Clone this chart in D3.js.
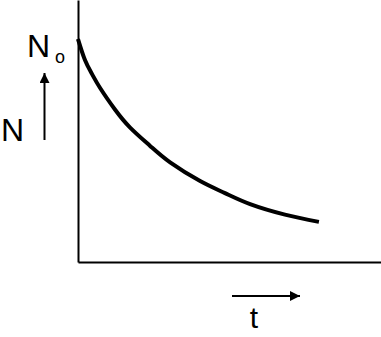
<!DOCTYPE html>
<html>
<head>
<meta charset="utf-8">
<script src="https://cdn.jsdelivr.net/npm/d3@7"></script>
<style>
  html, body { margin: 0; padding: 0; background: #fff; }
  svg { display: block; }
  text { font-family: "Liberation Sans", Arial, sans-serif; fill: #000; }
</style>
</head>
<body>
<div id="chart"></div>
<script>
const WIDTH = 381;
const HEIGHT = 337;

// decay curve (t and N in arbitrary units)
const times = [0, 0.23, 0.46, 0.73, 1.22, 1.72, 2.38, 3.04, 4.03, 4.85, 5.68, 6.83, 7.95];
const counts = [8.51, 7.71, 7.18, 6.64, 5.82, 5.13, 4.43, 3.80, 3.09, 2.63, 2.21, 1.81, 1.53];

const yLabel = "N";
const y0Label = "N";
const y0Sub = "o";
const xLabel = "t";

const svg = d3.select("#chart")
  .append("svg")
  .attr("width", WIDTH)
  .attr("height", HEIGHT);

// Scales
const xScale = d3.scaleLinear().domain([0, 10]).range([78, 381]);
const yScale = d3.scaleLinear().domain([0, 10]).range([262, 0]);

// Axes, bare lines
const xAxis = d3.axisBottom(xScale).ticks(0).tickSizeOuter(0);
svg.append("g")
  .attr("transform", "translate(0," + yScale(0) + ")")
  .call(xAxis)
  .select(".domain")
  .attr("stroke", "#000")
  .attr("stroke-width", 2);

const yAxis = d3.axisLeft(yScale).ticks(0).tickSizeOuter(0);
svg.append("g")
  .attr("transform", "translate(" + xScale(0) + ",0)")
  .call(yAxis)
  .select(".domain")
  .attr("stroke", "#000")
  .attr("stroke-width", 2);

// Curve
const line = d3.line()
  .x((d, i) => xScale(times[i]))
  .y((d) => yScale(d))
  .curve(d3.curveNatural);

svg.append("path")
  .datum(counts)
  .attr("d", line)
  .attr("fill", "none")
  .attr("stroke", "#000")
  .attr("stroke-width", 4)
  .attr("stroke-linecap", "butt");

// Arrow head
const defs = svg.append("defs");
defs.append("marker")
  .attr("id", "head")
  .attr("viewBox", "0 0 10 10")
  .attr("refX", 10)
  .attr("refY", 5)
  .attr("markerWidth", 11)
  .attr("markerHeight", 10)
  .attr("markerUnits", "userSpaceOnUse")
  .attr("orient", "auto")
  .append("path")
  .attr("d", "M0,0L10,5L0,10Z")
  .attr("fill", "#000");

// N arrow (up)
svg.append("line")
  .attr("x1", 44.5).attr("y1", 140)
  .attr("x2", 44.5).attr("y2", 73)
  .attr("stroke", "#000")
  .attr("stroke-width", 2)
  .attr("marker-end", "url(#head)");

// t arrow (right)
svg.append("line")
  .attr("x1", 232).attr("y1", 296)
  .attr("x2", 300).attr("y2", 296)
  .attr("stroke", "#000")
  .attr("stroke-width", 2)
  .attr("marker-end", "url(#head)");

// Labels
const n0 = svg.append("text")
  .attr("x", 27)
  .attr("y", 57)
  .style("font-size", "32px");
n0.append("tspan").text(y0Label);
n0.append("tspan")
  .attr("x", 55)
  .attr("y", 63)
  .style("font-size", "18px")
  .text(y0Sub);

svg.append("text")
  .attr("x", 1)
  .attr("y", 141)
  .style("font-size", "32px")
  .text(yLabel);

svg.append("text")
  .attr("x", 254)
  .attr("y", 328)
  .attr("text-anchor", "middle")
  .style("font-size", "30px")
  .text(xLabel);
</script>
</body>
</html>
